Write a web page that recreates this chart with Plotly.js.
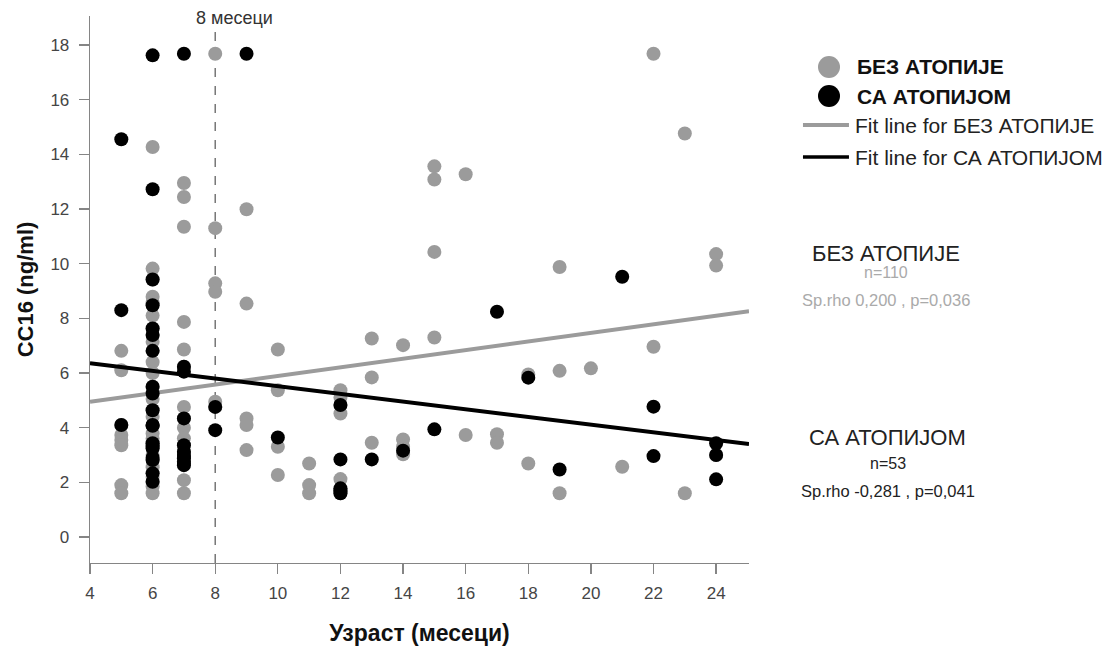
<!DOCTYPE html>
<html>
<head>
<meta charset="utf-8">
<script src="https://cdn.plot.ly/plotly-3.0.1.min.js"></script>
<style>html,body{margin:0;padding:0;background:#fff;}#chart{width:1106px;height:646px;}</style>
</head>
<body>
<div id="chart"></div>
<script>
// ---- Data ----
const groupNames = ['БЕЗ АТОПИЈЕ', 'СА АТОПИЈОМ'];

// БЕЗ АТОПИЈЕ (no atopy), age in months / CC16 ng/ml
const noAtopyX = [
  5,5,5,5,5,5,5,5,
  6,6,6,6,6,6,6,6,6,6,6,6,6,6,6,6,
  6,6,6,6,6,6,6,6,6,6,6,6,6,6,6,
  7,7,7,7,7,7,7,7,7,7,
  7,7,7,7,7,7,7,
  8,8,8,8,8,8,
  9,9,9,9,9,
  10,10,10,10,
  11,11,11,
  12,12,12,12,12,12,12,
  13,13,13,
  14,14,14,14,
  15,15,15,15,
  16,16,
  17,17,
  18,18,
  19,19,19,
  20,
  21,
  22,22,
  23,23,
  24,24,24
];
const noAtopyY = [
  6.81,6.1,3.73,3.55,3.36,1.9,1.6,4.1,
  14.27,9.82,8.79,8.6,8.1,7.14,6.4,6.0,5.05,4.4,3.79,3.0,2.55,1.85,1.6,3.6,
  9.42,8.48,7.63,7.39,6.81,5.5,5.25,4.64,4.07,3.43,3.25,2.82,2.33,2.02,2.2,
  12.95,12.44,11.35,7.87,6.86,4.76,4.0,3.61,2.08,1.6,
  6.23,4.34,3.36,3.12,2.88,2.63,2.75,
  17.68,11.3,9.28,8.97,4.95,4.76,
  11.99,8.54,4.34,4.1,3.18,
  6.86,5.37,3.3,2.27,
  2.69,1.9,1.6,
  5.37,5.1,4.52,2.12,1.7,1.6,4.83,
  7.26,5.84,3.45,
  7.02,3.57,3.3,3.03,
  13.56,13.08,10.43,7.3,
  13.27,3.73,
  3.76,3.45,
  5.95,2.69,
  9.88,6.08,1.6,
  6.17,
  2.57,
  17.68,6.96,
  14.76,1.6,
  10.35,9.93,3.0
];

// СА АТОПИЈОМ (with atopy)
const atopyX = [
  5,5,5,
  6,6,6,6,6,6,6,6,6,6,6,6,6,6,6,6,6,6,6,
  7,7,7,7,7,7,7,7,7,7,
  8,8,
  9,
  10,
  12,12,12,12,12,
  13,
  14,
  15,
  17,
  18,
  19,
  21,
  22,22,
  24,24,24
];
const atopyY = [
  14.55,8.3,4.1,
  17.62,12.72,9.42,8.48,7.63,7.39,6.81,5.5,5.25,4.64,4.07,3.43,3.25,2.82,2.33,2.02,4.1,2.9,3.35,
  17.68,6.23,6.05,4.34,3.36,3.12,2.88,2.63,2.75,3.0,
  4.76,3.91,
  17.68,
  3.64,
  4.83,2.84,1.78,1.6,1.7,
  2.84,
  3.16,
  3.94,
  8.24,
  5.83,
  2.47,
  9.52,
  4.77,2.96,
  3.43,3.0,2.11
];

// Linear fit lines (endpoints across the x range)
const fitX = [4, 25.05];
const fitNoAtopy = [4.95, 8.26];
const fitAtopy = [6.36, 3.40];

const xTicks = [4,6,8,10,12,14,16,18,20,22,24];
const yTicks = [0,2,4,6,8,10,12,14,16,18];
const cutoffMonth = 8;
const cutoffLabel = '8 месеци';

const statsNoAtopy = ['n=110', 'Sp.rho 0,200 , p=0,036'];
const statsAtopy = ['n=53', 'Sp.rho -0,281 , p=0,041'];

// ---- Styles ----
const GRAY = '#9b9b9b';
const BLACK = '#000000';
const FONT = 'Liberation Sans, Arial, sans-serif';

const traces = [
  {x: noAtopyX, y: noAtopyY, type: 'scatter', mode: 'markers', name: groupNames[0],
   marker: {color: GRAY, size: 14, line: {width: 0}}, hoverinfo: 'x+y'},
  {x: fitX, y: fitNoAtopy, type: 'scatter', mode: 'lines', name: 'Fit line for ' + groupNames[0],
   line: {color: GRAY, width: 4}},
  {x: atopyX, y: atopyY, type: 'scatter', mode: 'markers', name: groupNames[1],
   marker: {color: BLACK, size: 14, line: {width: 0}}, hoverinfo: 'x+y'},
  {x: fitX, y: fitAtopy, type: 'scatter', mode: 'lines', name: 'Fit line for ' + groupNames[1],
   line: {color: BLACK, width: 4}}
];

const axisCommon = {
  showline: true, linecolor: '#858585', linewidth: 1.3,
  ticks: 'outside', ticklen: 10, tickwidth: 1.3, tickcolor: '#858585',
  tickfont: {family: FONT, size: 17, color: '#454545'},
  showgrid: false, zeroline: false, automargin: false
};

const annotations = [
  {xref: 'x', yref: 'paper', x: cutoffMonth, y: 0.996, xshift: 19, text: cutoffLabel,
   showarrow: false, xanchor: 'center', yanchor: 'middle', font: {family: FONT, size: 18, color: '#333'}},
  // custom legend texts
  {xref: 'paper', yref: 'paper', x: 1.1608, y: 0.9068, xanchor: 'left', yanchor: 'middle', showarrow: false,
   text: '<b>' + groupNames[0] + '</b>', font: {family: FONT, size: 21, color: '#111'}},
  {xref: 'paper', yref: 'paper', x: 1.1608, y: 0.8537, xanchor: 'left', yanchor: 'middle', showarrow: false,
   text: '<b>' + groupNames[1] + '</b>', font: {family: FONT, size: 21, color: '#111'}},
  {xref: 'paper', yref: 'paper', x: 1.1578, y: 0.8007, xanchor: 'left', yanchor: 'middle', showarrow: false,
   text: 'Fit line for ' + groupNames[0], font: {family: FONT, size: 21, color: '#222'}},
  {xref: 'paper', yref: 'paper', x: 1.1578, y: 0.7422, xanchor: 'left', yanchor: 'middle', showarrow: false,
   text: 'Fit line for ' + groupNames[1], font: {family: FONT, size: 21, color: '#222'}},
  // stats blocks
  {xref: 'paper', yref: 'paper', x: 1.2079, y: 0.5667, xanchor: 'center', yanchor: 'middle', showarrow: false,
   text: groupNames[0], font: {family: FONT, size: 22, color: '#222'}},
  {xref: 'paper', yref: 'paper', x: 1.2079, y: 0.5302, xanchor: 'center', yanchor: 'middle', showarrow: false,
   text: statsNoAtopy[0], font: {family: FONT, size: 16, color: '#aaa'}},
  {xref: 'paper', yref: 'paper', x: 1.2079, y: 0.4808, xanchor: 'center', yanchor: 'middle', showarrow: false,
   text: statsNoAtopy[1], font: {family: FONT, size: 16.5, color: '#aaa'}},
  {xref: 'paper', yref: 'paper', x: 1.2109, y: 0.2303, xanchor: 'center', yanchor: 'middle', showarrow: false,
   text: groupNames[1], font: {family: FONT, size: 22, color: '#222'}},
  {xref: 'paper', yref: 'paper', x: 1.2109, y: 0.1828, xanchor: 'center', yanchor: 'middle', showarrow: false,
   text: statsAtopy[0], font: {family: FONT, size: 16, color: '#222'}},
  {xref: 'paper', yref: 'paper', x: 1.2109, y: 0.1316, xanchor: 'center', yanchor: 'middle', showarrow: false,
   text: statsAtopy[1], font: {family: FONT, size: 16.5, color: '#222'}}
];

const shapes = [
  {type: 'line', xref: 'x', yref: 'paper', x0: cutoffMonth, x1: cutoffMonth, y0: 0, y1: 0.98,
   line: {color: '#777', width: 1.5, dash: 'dash'}, layer: 'below'},
  // legend symbols
  {type: 'circle', xref: 'paper', yref: 'paper', xsizemode: 'pixel', ysizemode: 'pixel',
   xanchor: 1.1214, yanchor: 0.9068, x0: -11, x1: 11, y0: -11, y1: 11,
   fillcolor: GRAY, line: {width: 0}},
  {type: 'circle', xref: 'paper', yref: 'paper', xsizemode: 'pixel', ysizemode: 'pixel',
   xanchor: 1.1214, yanchor: 0.8537, x0: -11, x1: 11, y0: -11, y1: 11,
   fillcolor: BLACK, line: {width: 0}},
  {type: 'line', xref: 'paper', yref: 'paper', x0: 1.0819, x1: 1.1517, y0: 0.8007, y1: 0.8007,
   line: {color: GRAY, width: 4}},
  {type: 'line', xref: 'paper', yref: 'paper', x0: 1.0819, x1: 1.1517, y0: 0.7422, y1: 0.7422,
   line: {color: BLACK, width: 3.5}}
];

const layout = {
  width: 1106, height: 646,
  margin: {l: 90, r: 357, t: 16, b: 83},
  paper_bgcolor: '#fff', plot_bgcolor: '#fff',
  showlegend: false,
  font: {family: FONT, color: '#333'},
  xaxis: Object.assign({}, axisCommon, {
    range: [4, 25.05], tickvals: xTicks, ticktext: xTicks.map(String),
    ticklabelstandoff: 4,
    title: {text: '<b>Узраст (месеци)</b>', font: {family: FONT, size: 23, color: '#111'}, standoff: 24}
  }),
  yaxis: Object.assign({}, axisCommon, {
    range: [-0.95, 19.06], tickvals: yTicks, ticktext: yTicks.map(String),
    ticklabelstandoff: 6,
    title: {text: '<b>CC16 (ng/ml)</b>', font: {family: FONT, size: 22, color: '#111'}, standoff: 10}
  }),
  annotations: annotations,
  shapes: shapes
};

Plotly.newPlot('chart', traces, layout, {displayModeBar: false, staticPlot: true});
</script>
</body>
</html>
